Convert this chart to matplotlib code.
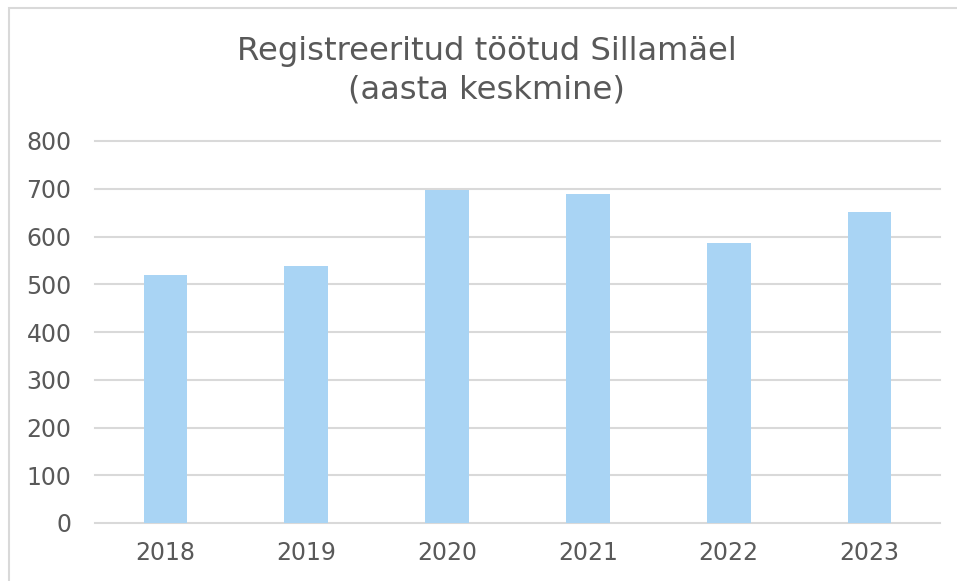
import matplotlib
matplotlib.use("Agg")
import matplotlib.pyplot as plt
from matplotlib.patches import Rectangle

years = ["2018", "2019", "2020", "2021", "2022", "2023"]
values = [520, 539, 698, 689, 587, 652]
yticks = [0, 100, 200, 300, 400, 500, 600, 700, 800]

title = "Registreeritud töötud Sillamäel\n(aasta keskmine)"
text_color = "#595959"
grid_color = "#d9d9d9"
bar_color = "#a9d4f4"

fig = plt.figure(figsize=(9.57, 5.81), dpi=100)
fig.patch.set_facecolor("white")
# outer chart border (light gray)
fig.add_artist(Rectangle((9/957, -0.1), 1.1, (581-8)/581 + 0.1, transform=fig.transFigure,
                         fill=False, edgecolor="#d9d9d9", linewidth=1.5))

ax = fig.add_axes([95/957, (581-523)/581, (940-95)/957, (523-141)/581])
x = range(len(years))
ax.bar(x, values, width=0.31, color=bar_color, zorder=3)
ax.set_xlim(-0.5, len(years) - 0.5)
ax.set_ylim(0, 800)
ax.set_yticks(yticks)
ax.set_yticklabels([str(v) for v in yticks])
ax.set_xticks(list(x))
ax.set_xticklabels(years)
for v in yticks[1:]:
    ax.axhline(v, color=grid_color, linewidth=1.5, zorder=0, clip_on=False)
for s in ["top", "right", "left"]:
    ax.spines[s].set_visible(False)
ax.spines["bottom"].set_color(grid_color)
ax.spines["bottom"].set_linewidth(1.5)
ax.tick_params(axis="both", length=0, colors=text_color, labelsize=17)
ax.tick_params(axis="y", pad=17)
ax.tick_params(axis="x", pad=13)

fig.text(487/957, 1 - 71/581, title, ha="center", va="center", fontsize=23.2,
         color=text_color, linespacing=1.3)

fig.savefig("out.png", dpi=100, facecolor="white")
